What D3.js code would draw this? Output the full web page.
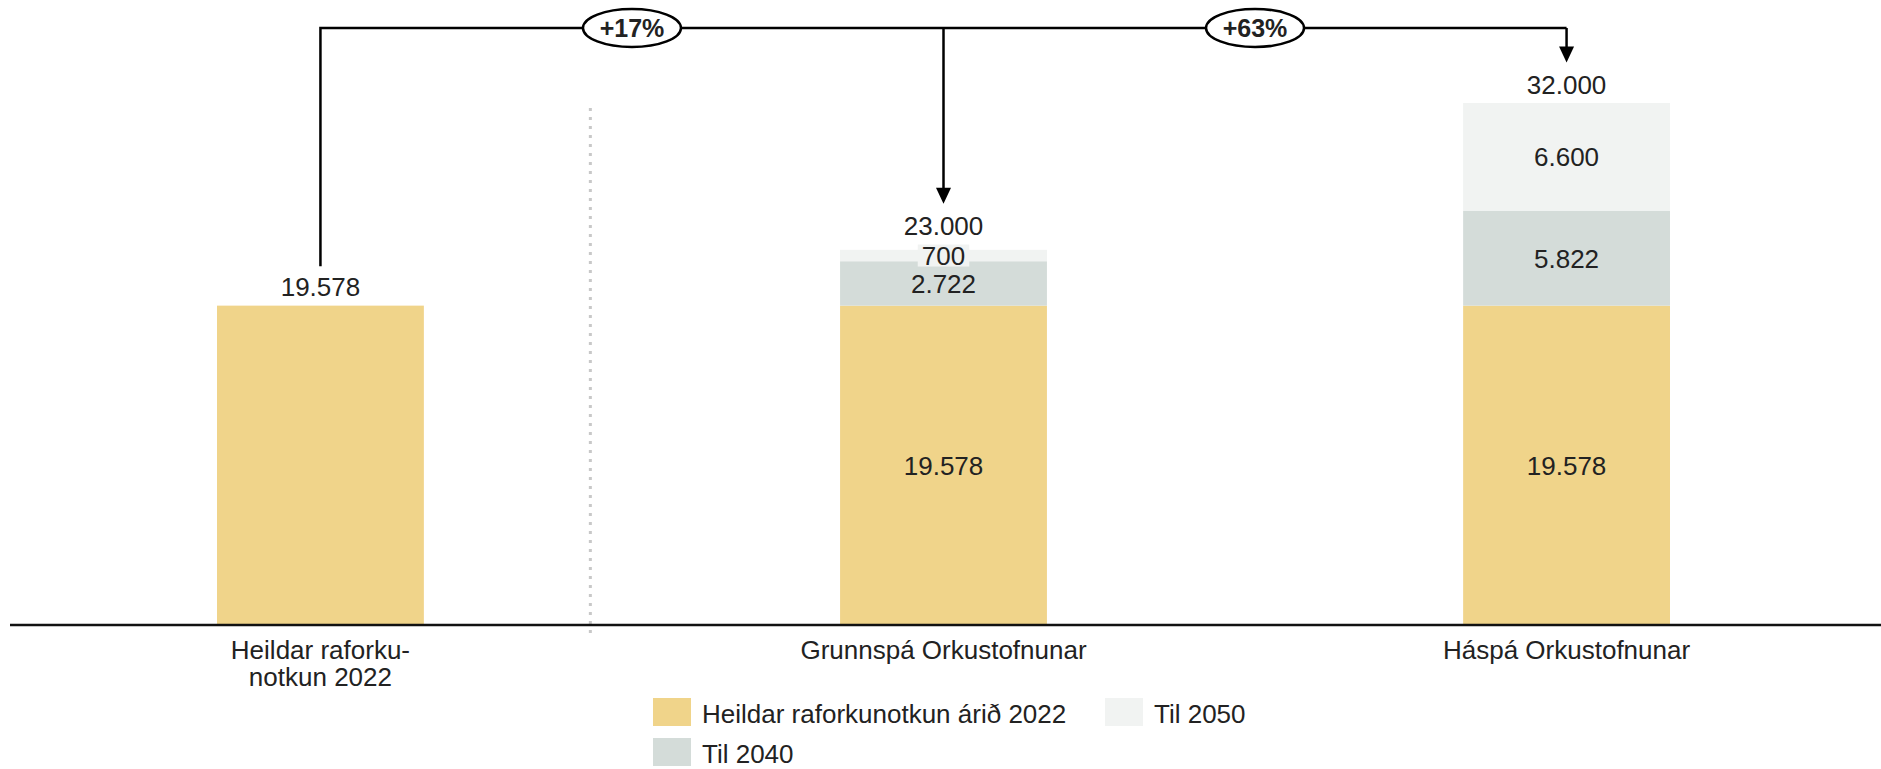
<!DOCTYPE html>
<html>
<head>
<meta charset="utf-8">
<script src="https://cdn.jsdelivr.net/npm/d3@7"></script>
<style>
  html, body { margin: 0; padding: 0; background: #fff; }
  svg { display: block; font-family: "Liberation Sans", Arial, sans-serif; }
</style>
</head>
<body>
<svg id="chart" width="1881" height="769"></svg>
<script>
// data
var categories = ["Heildar raforkunotkun 2022", "Grunnspá Orkustofnunar", "Háspá Orkustofnunar"];
var categoryLines = [["Heildar raforku-", "notkun 2022"], ["Grunnspá Orkustofnunar"], ["Háspá Orkustofnunar"]];
var seriesKeys = ["base", "til2040", "til2050"];
var seriesNames = ["Heildar raforkunotkun árið 2022", "Til 2040", "Til 2050"];
var base2022 = [19578, 19578, 19578];
var til2040 = [0, 2722, 5822];
var til2050 = [0, 700, 6600];
var totals = [19578, 23000, 32000];
var changeLabels = ["+17%", "+63%"];
var legendOrder = ["base", "til2050", "til2040"];

var colors = { base: "#f0d48a", til2040: "#d4dcd9", til2050: "#f1f3f2" };
var textColor = "#222";

var fmt = d3.formatLocale({ decimal: ",", thousands: ".", grouping: [3], currency: ["", ""] }).format(",");

var svg = d3.select("#chart");
var baseY = 625;

var rows = categories.map(function (c, i) {
    return { cat: c, base: base2022[i], til2040: til2040[i], til2050: til2050[i], total: totals[i] };
});

var x = d3.scaleBand()
    .domain(categories)
    .range([92.4, 1794.6])
    .paddingInner(0.668)
    .paddingOuter(0.2);

var y = d3.scaleLinear()
    .domain([0, 32000])
    .range([baseY, 103]);

var stack = d3.stack().keys(seriesKeys)(rows);

// dotted separator
var sepX = x(categories[0]) + x.bandwidth() + 0.4 * (x(categories[1]) - x(categories[0]) - x.bandwidth());
svg.append("line")
    .attr("x1", sepX).attr("x2", sepX)
    .attr("y1", 108).attr("y2", 638)
    .attr("stroke", "#c8c8c8")
    .attr("stroke-width", 3)
    .attr("stroke-dasharray", "3 6");

// bars
var layers = svg.append("g").selectAll("g")
    .data(stack)
    .enter().append("g")
    .attr("fill", function (d) { return colors[d.key]; });

layers.selectAll("rect")
    .data(function (d) { return d.filter(function (s) { return s[1] - s[0] > 0; }); })
    .enter().append("rect")
    .attr("x", function (d) { return x(d.data.cat); })
    .attr("y", function (d) { return y(d[1]); })
    .attr("height", function (d) { return y(d[0]) - y(d[1]); })
    .attr("width", x.bandwidth());

// segment labels (only on stacked bars)
stack.forEach(function (layer) {
    layer.forEach(function (s, i) {
        var v = s[1] - s[0];
        if (v <= 0 || til2040[i] === 0) return;
        var cx = x(s.data.cat) + x.bandwidth() / 2;
        var cy = (y(s[0]) + y(s[1])) / 2;
        var h = y(s[0]) - y(s[1]);
        var label = fmt(v);
        if (h < 24) {
            var w = label.length * 14.5 + 8;
            svg.append("rect")
                .attr("x", cx - w / 2).attr("y", cy - 11)
                .attr("width", w).attr("height", 22)
                .attr("fill", colors[layer.key]);
        }
        svg.append("text")
            .attr("x", cx).attr("y", cy)
            .attr("dy", "0.36em")
            .attr("text-anchor", "middle")
            .attr("font-size", 26)
            .attr("fill", textColor)
            .text(label);
    });
});

// total labels
var labelBase = rows.map(function (r) {
    var topSeg = r.til2050 > 0 ? r.til2050 : (r.til2040 > 0 ? r.til2040 : r.base);
    var topH = y(0) - y(topSeg);
    return y(r.total) - (topH < 20 ? 15 : 9.5);
});
svg.append("g").selectAll("text")
    .data(rows)
    .enter().append("text")
    .attr("x", function (d) { return x(d.cat) + x.bandwidth() / 2; })
    .attr("y", function (d, i) { return labelBase[i]; })
    .attr("text-anchor", "middle")
    .attr("font-size", 26)
    .attr("fill", textColor)
    .text(function (d) { return fmt(d.total); });

// axis baseline
svg.append("line")
    .attr("x1", 10).attr("x2", 1881)
    .attr("y1", baseY).attr("y2", baseY)
    .attr("stroke", "#111")
    .attr("stroke-width", 2.5);

// category labels
categoryLines.forEach(function (lines, i) {
    var t = svg.append("text")
        .attr("x", x(categories[i]) + x.bandwidth() / 2)
        .attr("y", 659)
        .attr("text-anchor", "middle")
        .attr("font-size", 26)
        .attr("fill", textColor);
    lines.forEach(function (l, j) {
        t.append("tspan")
            .attr("x", x(categories[i]) + x.bandwidth() / 2)
            .attr("dy", j === 0 ? 0 : 26.5)
            .text(l);
    });
});

// bracket with change markers
var lineY = 28;
var centers = categories.map(function (c) { return x(c) + x.bandwidth() / 2; });
var tipY = labelBase.map(function (b) { return b - 19 - 12; });

svg.append("path")
    .attr("d", "M" + centers[0] + "," + (tipY[0] + 1) + "V" + lineY + "H" + centers[2])
    .attr("fill", "none")
    .attr("stroke", "#000")
    .attr("stroke-width", 2.5);

[1, 2].forEach(function (i) {
    var cx = centers[i], tip = tipY[i];
    svg.append("line")
        .attr("x1", cx).attr("x2", cx)
        .attr("y1", lineY).attr("y2", tip - 10)
        .attr("stroke", "#000")
        .attr("stroke-width", 2.5);
    svg.append("path")
        .attr("d", "M" + (cx - 7.5) + "," + (tip - 16) + "L" + (cx + 7.5) + "," + (tip - 16) + "L" + cx + "," + tip + "Z")
        .attr("fill", "#000");
});

changeLabels.forEach(function (lbl, i) {
    var mx = (centers[i] + centers[i + 1]) / 2;
    svg.append("ellipse")
        .attr("cx", mx).attr("cy", lineY)
        .attr("rx", 49).attr("ry", 19)
        .attr("fill", "#fff")
        .attr("stroke", "#000")
        .attr("stroke-width", 2.5);
    svg.append("text")
        .attr("x", mx).attr("y", lineY)
        .attr("dy", "0.36em")
        .attr("text-anchor", "middle")
        .attr("font-size", 25)
        .attr("font-weight", "bold")
        .attr("fill", "#222")
        .text(lbl);
});

// legend
var legendCols = [653, 1105];
var legend = svg.append("g").selectAll("g")
    .data(legendOrder)
    .enter().append("g")
    .attr("transform", function (d, i) {
        return "translate(" + legendCols[i % 2] + "," + (698 + Math.floor(i / 2) * 40) + ")";
    });
legend.append("rect")
    .attr("width", 38)
    .attr("height", 28)
    .attr("fill", function (d) { return colors[d]; });
legend.append("text")
    .attr("x", 49)
    .attr("y", 25)
    .attr("font-size", 26)
    .attr("fill", textColor)
    .text(function (d) { return seriesNames[seriesKeys.indexOf(d)]; });
</script>
</body>
</html>
